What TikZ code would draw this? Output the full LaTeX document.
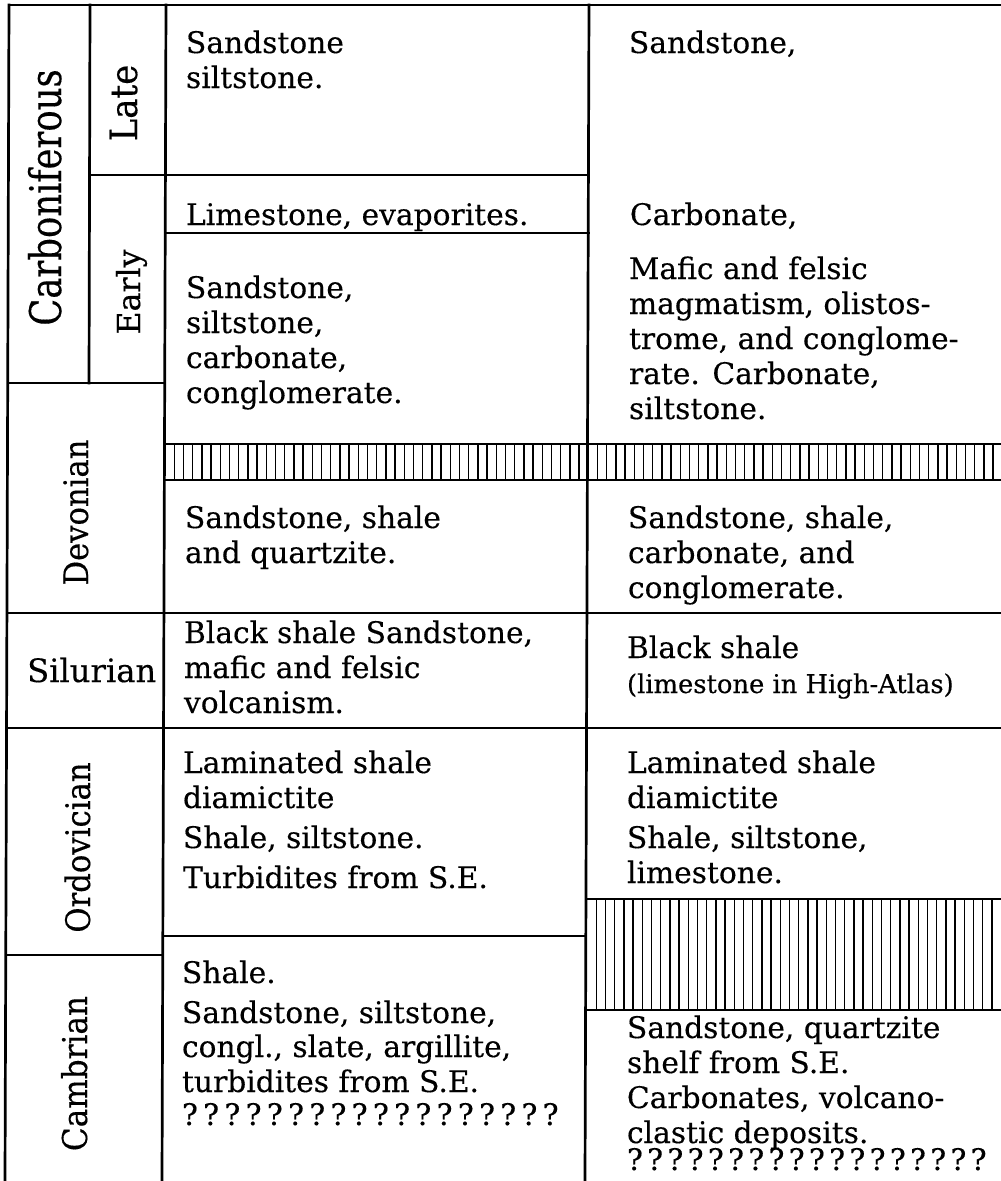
\documentclass[tikz,border=0pt]{standalone}
\usepackage{fontspec}
\setmainfont{DejaVu Serif}[FakeBold=0.3]
\newcount\qcnt
\newcommand\qmarks[1]{\qcnt=1 ?\loop\ifnum\qcnt<18 \kern#1?\advance\qcnt by 1 \repeat}
\newcommand\cellt[1]{\begin{tabular}[t]{@{}l@{}}#1\end{tabular}}
\tikzset{
  rule/.style={line width=2.7pt, line cap=rect},
  hatchln/.style={line width=1.4pt},
  body/.style={anchor=base west, inner sep=0pt, outer sep=0pt,
    font=\fontsize{29.7}{35}\selectfont},
  vlab/.style={anchor=base, inner sep=0pt, outer sep=0pt, rotate=90},
}
\begin{document}
\begin{tikzpicture}[x=1pt,y=-1pt]
\useasboundingbox (0,0) rectangle (1001,1181);
% ---- vertical rules (slight scan skew) ----
\draw[rule] (9,5) -- (5,1181);
\draw[rule] (90,5) -- (89,383);
\draw[rule] (166,5) -- (162,1181);
\draw[rule] (589,5) -- (585,1181);
% ---- horizontal rules ----
\draw[rule] (9,5) -- (1001,5);
\draw[rule] (90,175) -- (589,175);
\draw[rule] (166,233) -- (589,233);
\draw[rule] (8,383) -- (165,383);
\draw[rule] (7,613) -- (1001,613);
\draw[rule] (6.5,728) -- (1001,728);
\draw[rule] (163,936) -- (586,936);
\draw[rule] (6,955) -- (163,955);
% ---- hatched band (Carboniferous / Devonian) ----
\draw[rule] (165,444) -- (1001,444);
\draw[rule] (165,480) -- (1001,480);
\foreach \x in {174.2,183.4,...,1000} \draw[hatchln] (\x,444) -- (\x,480);
% ---- hatched band (right column, Ordovician / Cambrian) ----
\draw[rule] (587,899) -- (1001,899);
\draw[rule] (587,1010) -- (1001,1010);
\foreach \x in {596.2,605.4,...,1000} \draw[hatchln] (\x,899) -- (\x,1010);
% ---- period labels (yscale stretches the glyph height, i.e. the x extent) ----
\node[vlab, yscale=1.23, font=\fontsize{35.4}{42}\selectfont] (carb) at (61,197.5) {Carboniferous};
\node[vlab, yscale=1.1, font=\fontsize{34}{40}\selectfont] (late) at (137,103) {Late};
\node[vlab, yscale=1.0, font=\fontsize{31.6}{38}\selectfont] (early) at (140,292) {Early};
\node[vlab, yscale=1.1, font=\fontsize{30.6}{37}\selectfont] (devo) at (88,512.5) {Devonian};
\node[anchor=base west, inner sep=0pt, font=\fontsize{32.2}{38}\selectfont] (silu) at (27,682) {Silurian};
\node[vlab, yscale=1.1, font=\fontsize{30.7}{37}\selectfont] (ordo) at (90,847.5) {Ordovician};
\node[vlab, yscale=1.1, font=\fontsize{31.1}{37}\selectfont] (camb) at (87,1073.5) {Cambrian};
% ---- column 1 ----
\node[body] (a1) at (186,53) {\cellt{Sandstone\\siltstone.}};
\node[body] (a2) at (186,225) {\cellt{Limestone, evaporites.}};
\node[body] (a3) at (186,298) {\cellt{Sandstone,\\siltstone,\\carbonate,\\conglomerate.}};
\node[body] (a4) at (185,528) {\cellt{Sandstone, shale\\and quartzite.}};
\node[body] (a5) at (184,643) {\cellt{Black shale Sandstone,\\mafic and felsic\\volcanism.}};
\node[body] (a6) at (183,773) {\cellt{Laminated shale\\diamictite\\[5pt]Shale, siltstone.\\[5pt]Turbidites from S.E.}};
\node[body] (a7) at (182,983) {\cellt{Shale.\\[5pt]Sandstone, siltstone,\\[-1pt]congl., slate, argillite,\\turbidites from S.E.\\[-2pt]\qmarks{5.3pt}}};
% ---- column 2 ----
\node[body] (b1) at (629,53) {\cellt{Sandstone,}};
\node[body] (b2) at (630,225) {\cellt{Carbonate,}};
\node[body] (b3) at (629,279) {\cellt{Mafic and felsic\\magmatism, olistos-\\trome, and conglome-\\rate. Carbonate,\\siltstone.}};
\node[body] (b4) at (628,528) {\cellt{Sandstone, shale,\\carbonate, and\\conglomerate.}};
\node[body] (b5) at (627,658) {\cellt{Black shale\\{\fontsize{25.8}{30}\selectfont (limestone in High-Atlas)}}};
\node[body] (b6) at (627,773) {\cellt{Laminated shale\\diamictite\\[5pt]Shale, siltstone,\\limestone.}};
\node[body] (b7) at (627,1038) {\cellt{Sandstone, quartzite\\shelf from S.E.\\Carbonates, volcano-\\clastic deposits.\\[-8pt]\qmarks{4.3pt}}};
\end{tikzpicture}
\end{document}
